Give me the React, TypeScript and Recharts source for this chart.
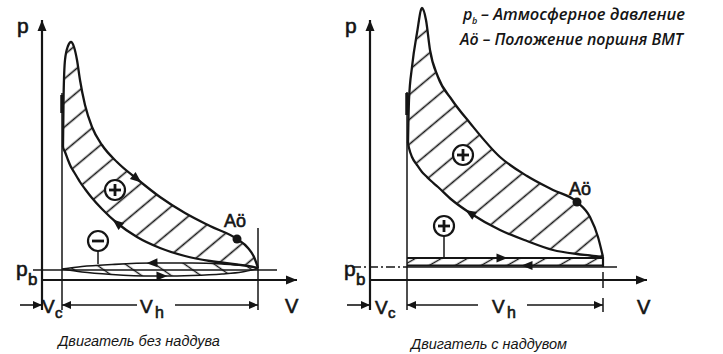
import { ComposedChart, XAxis, YAxis, Line, Area, ReferenceLine, ReferenceDot } from "recharts";

const INK = "#151515";
const FONT = "'Liberation Sans', Arial, sans-serif";

// ---------- left diagram: engine without boost ----------
const naV = [1.05, 1.08, 1.15, 1.3, 1.45, 1.6, 1.75, 1.9, 2.15, 2.5, 3.0, 3.75, 4.75, 5.9, 7.15, 8.4, 9.75, 10.3, 10.6, 10.8];
const naTop = [13.3, 18.5, 22.0, 23.4, 23.8, 23.3, 22.0, 20.0, 17.5, 15.3, 13.5, 11.8, 10.1, 8.3, 6.7, 5.4, 4.1, 3.2, 2.3, 1.2];
const naBot = [13.3, 13.1, 12.8, 12.0, 11.3, 10.8, 10.3, 9.8, 9.1, 8.2, 7.1, 5.7, 4.3, 3.2, 2.4, 1.9, 1.55, 1.4, 1.3, 1.2];

const naLensV = [1.0, 2.0, 3.5, 5.5, 6.0, 7.5, 9.0, 10.0, 10.8];
const naLensExh = [1.1, 1.35, 1.55, 1.7, 1.7, 1.7, 1.6, 1.45, 1.2];
const naLensInt = [1.1, 0.8, 0.55, 0.4, 0.4, 0.45, 0.6, 0.8, 1.15];

const naVc = 1.0;
const naVend = 10.8;
const naPb = 1.0;
const naAo = { V: 9.75, p: 4.1 };
const naPlus = { V: 3.65, p: 9.0 };
const naMinus = { V: 2.8, p: 3.9 };

// ---------- right diagram: engine with boost ----------
const tcV = [1.9, 1.95, 2.1, 2.35, 2.6, 2.8, 3.0, 3.4, 4.1, 5.0, 6.5, 7.85, 9.15, 10.35, 11.0, 11.4, 11.65];
const tcTop = [13.7, 18.0, 21.3, 24.7, 27.2, 26.0, 23.0, 20.3, 18.0, 15.7, 12.3, 10.4, 9.0, 7.8, 6.3, 4.3, 2.3];
const tcBot = [13.7, 13.2, 12.3, 11.5, 10.8, 10.4, 10.0, 9.3, 8.0, 6.7, 5.0, 3.9, 3.0, 2.6, 2.45, 2.35, 2.3];

const tcStripV = [1.85, 6.6, 7.85, 11.65];
const tcStripInt = [2.2, 2.2, 2.2, 2.2];
const tcStripExh = [1.45, 1.45, 1.45, 1.45];

const tcVc = 1.85;
const tcVend = 11.65;
const tcPb = 1.3;
const tcAo = { V: 10.35, p: 7.8 };
const tcPlusBig = { V: 4.65, p: 12.5 };
const tcPlusSmall = { V: 3.7, p: 5.4 };

// rows for a band between two curves; arrows mark the flow direction (+1 forward, -1 back)
const band = (v: number[], top: number[], bot: number[], topArrow: [number, number], botArrow: [number, number]) =>
  v.map((V, i) => ({
    V,
    top: top[i],
    bot: bot[i],
    range: [bot[i], top[i]],
    aTop: V === topArrow[0] ? topArrow[1] : 0,
    aBot: V === botArrow[0] ? botArrow[1] : 0,
  }));

const naLoop = band(naV, naTop, naBot, [4.75, 1], [3.75, -1]);
const naLens = band(naLensV, naLensExh, naLensInt, [5.5, -1], [6.0, 1]);
const tcLoop = band(tcV, tcTop, tcBot, [0, 0], [5.0, -1]);
const tcStrip = band(tcStripV, tcStripInt, tcStripExh, [6.6, 1], [7.85, -1]);

const flowArrow = (flag: "aTop" | "aBot") => (props: any) => {
  const { cx, cy, index, points, payload } = props;
  const dir = payload ? payload[flag] : 0;
  if (!dir || !points || cx == null) return <g key={`${flag}-${index}`} />;
  const a = points[Math.max(0, index - 1)];
  const b = points[Math.min(points.length - 1, index + 1)];
  const ang = (Math.atan2(b.y - a.y, b.x - a.x) * 180) / Math.PI + (dir < 0 ? 180 : 0);
  return (
    <path
      key={`${flag}-${index}`}
      d="M5.5,0 L-5.5,-4.5 L-5.5,4.5 Z"
      fill={INK}
      transform={`translate(${cx},${cy}) rotate(${ang})`}
    />
  );
};

const head = (x: number, y: number, a: number, len: number, wid: number) => {
  const bx = x - len * Math.cos(a);
  const by = y - len * Math.sin(a);
  const nx = -Math.sin(a) * (wid / 2);
  const ny = Math.cos(a) * (wid / 2);
  return `M${x},${y} L${bx + nx},${by + ny} L${bx - nx},${by - ny} Z`;
};

const arrowLine = (width: number, end = false, dash?: string, len = 10, wid = 8) => (props: any) => {
  const { x1, y1, x2, y2 } = props;
  const a = Math.atan2(y2 - y1, x2 - x1);
  return (
    <g>
      <line x1={x1} y1={y1} x2={x2} y2={y2} stroke={INK} strokeWidth={width} strokeDasharray={dash} />
      {end && <path d={head(x2, y2, a, len, wid)} fill={INK} />}
    </g>
  );
};

const signDot = (plus: boolean) => (props: any) => {
  const { cx, cy } = props;
  return (
    <g>
      <circle cx={cx} cy={cy} r={10} fill="#fff" stroke={INK} strokeWidth={2.2} />
      <line x1={cx - 6} y1={cy} x2={cx + 6} y2={cy} stroke={INK} strokeWidth={2.8} />
      {plus && <line x1={cx} y1={cy - 6} x2={cx} y2={cy + 6} stroke={INK} strokeWidth={2.8} />}
    </g>
  );
};

const seg = (x1: number, y1: number, x2: number, y2: number) => [
  { x: x1, y: y1 },
  { x: x2, y: y2 },
];

const hatch = (id: string, angle: number, gap: number, w: number) => (
  <pattern id={id} patternUnits="userSpaceOnUse" width={gap} height={gap} patternTransform={`rotate(${angle})`}>
    <line x1={gap / 2} y1={0} x2={gap / 2} y2={gap} stroke={INK} strokeWidth={w} />
  </pattern>
);

const Chart = ({ left, width, vMin, vMax, children }: any) => (
  <div style={{ position: "absolute", left, top: 0 }}>
    <ComposedChart width={width} height={354} margin={{ top: 0, right: width - (vMax - vMin) * 20, bottom: 34, left: 0 }}>
      <XAxis type="number" dataKey="V" domain={[vMin, vMax]} hide />
      <YAxis type="number" domain={[-4, 28]} hide />
      {children}
    </ComposedChart>
  </div>
);

const loopSeries = (rows: any[], fill: string, w: number, key: string) => [
  <Area key={`${key}-a`} data={rows} dataKey="range" type="monotone" stroke="none" fill={fill} fillOpacity={1} isAnimationActive={false} dot={false} activeDot={false} />,
  <Line key={`${key}-t`} data={rows} dataKey="top" type="monotone" stroke={INK} strokeWidth={w} dot={flowArrow("aTop")} activeDot={false} isAnimationActive={false} />,
  <Line key={`${key}-b`} data={rows} dataKey="bot" type="monotone" stroke={INK} strokeWidth={w} dot={flowArrow("aBot")} activeDot={false} isAnimationActive={false} />,
];

const T = (p: any) => <text fontFamily={FONT} fill={INK} {...p} />;
const L = (p: any) => <T stroke={INK} strokeWidth={0.6} {...p} />;

export default function App() {
  return (
    <div style={{ position: "fixed", left: 0, top: 0, width: 723, height: 354, background: "#fff", overflow: "hidden" }}>
      <Chart left={0} width={340} vMin={-2.1} vMax={13}>
        <defs>
          {hatch("hatchNA", 50, 18.5, 1.6)}
          {hatch("lensNA", -55, 17, 1.4)}
        </defs>
        <ReferenceLine segment={seg(0, -3, 0, 26)} ifOverflow="visible" shape={arrowLine(2.2, true, undefined, 11, 9)} />
        <ReferenceLine segment={seg(0, 0, 12.75, 0)} ifOverflow="visible" shape={arrowLine(2.2, true, undefined, 11, 9)} />
        <ReferenceLine segment={seg(-0.45, naPb, 11.75, naPb)} ifOverflow="visible" shape={arrowLine(1.4)} />
        <ReferenceLine segment={seg(naVc, -3, naVc, 18.7)} ifOverflow="visible" shape={arrowLine(1.5)} />
        <ReferenceLine segment={seg(naVc, 16.7, naVc, 18.5)} ifOverflow="visible" shape={arrowLine(3.5)} />
        <ReferenceLine segment={seg(naVend, -3, naVend, 5.2)} ifOverflow="visible" shape={arrowLine(1.5)} />
        <ReferenceLine segment={seg(-1.1, -2.5, 0, -2.5)} ifOverflow="visible" shape={arrowLine(1.6, true, undefined, 9, 8)} />
        <ReferenceLine segment={seg(4.75, -2.5, naVc, -2.5)} ifOverflow="visible" shape={arrowLine(1.6, true, undefined, 9, 8)} />
        <ReferenceLine segment={seg(6.65, -2.5, naVend, -2.5)} ifOverflow="visible" shape={arrowLine(1.6, true, undefined, 9, 8)} />
        <ReferenceLine segment={seg(naMinus.V, naMinus.p - 1, naMinus.V, 1.6)} ifOverflow="visible" shape={arrowLine(1.5)} />
        {loopSeries(naLens, "url(#lensNA)", 1.6, "lens")}
        {loopSeries(naLoop, "url(#hatchNA)", 2.3, "loop")}
        <ReferenceDot x={naAo.V} y={naAo.p} r={4.5} fill={INK} stroke="none" ifOverflow="visible" />
        <ReferenceDot x={naPlus.V} y={naPlus.p} r={10} ifOverflow="visible" shape={signDot(true)} />
        <ReferenceDot x={naMinus.V} y={naMinus.p} r={10} ifOverflow="visible" shape={signDot(false)} />
      </Chart>

      <Chart left={330} width={393} vMin={-2} vMax={14.5}>
        <defs>
          {hatch("hatchTC", 50, 19, 1.6)}
          {hatch("stripTC", 60, 13, 1.4)}
        </defs>
        <ReferenceLine segment={seg(0, -3, 0, 26)} ifOverflow="visible" shape={arrowLine(2.2, true, undefined, 11, 9)} />
        <ReferenceLine segment={seg(0, 0, 13.85, 0)} ifOverflow="visible" shape={arrowLine(2.2, true, undefined, 11, 9)} />
        <ReferenceLine segment={seg(-0.9, tcPb, tcVc, tcPb)} ifOverflow="visible" shape={arrowLine(1.4, false, "9 3 2 3")} />
        <ReferenceLine segment={seg(tcVc, tcPb, 12.35, tcPb)} ifOverflow="visible" shape={arrowLine(1.6)} />
        <ReferenceLine segment={seg(tcVc, -3, tcVc, 18.8)} ifOverflow="visible" shape={arrowLine(1.5)} />
        <ReferenceLine segment={seg(tcVc, 16.5, tcVc, 18.7)} ifOverflow="visible" shape={arrowLine(3.5)} />
        <ReferenceLine segment={seg(tcVend, 0.8, tcVend, -0.8)} ifOverflow="visible" shape={arrowLine(1.5)} />
        <ReferenceLine segment={seg(tcVend, -1.8, tcVend, -3.2)} ifOverflow="visible" shape={arrowLine(1.5)} />
        <ReferenceLine segment={seg(tcVend, 2.3, tcVend, tcPb)} ifOverflow="visible" shape={arrowLine(2.2)} />
        <ReferenceLine segment={seg(-1.15, -2.5, 0, -2.5)} ifOverflow="visible" shape={arrowLine(1.6, true, undefined, 9, 8)} />
        <ReferenceLine segment={seg(5.4, -2.5, tcVc, -2.5)} ifOverflow="visible" shape={arrowLine(1.6, true, undefined, 9, 8)} />
        <ReferenceLine segment={seg(7.85, -2.5, tcVend, -2.5)} ifOverflow="visible" shape={arrowLine(1.6, true, undefined, 9, 8)} />
        <ReferenceLine segment={seg(tcPlusSmall.V, tcPlusSmall.p - 1, tcPlusSmall.V, 2.2)} ifOverflow="visible" shape={arrowLine(1.5)} />
        {loopSeries(tcStrip, "url(#stripTC)", 2.2, "strip")}
        {loopSeries(tcLoop, "url(#hatchTC)", 2.3, "loop")}
        <ReferenceDot x={tcAo.V} y={tcAo.p} r={4.5} fill={INK} stroke="none" ifOverflow="visible" />
        <ReferenceDot x={tcPlusBig.V} y={tcPlusBig.p} r={10} ifOverflow="visible" shape={signDot(true)} />
        <ReferenceDot x={tcPlusSmall.V} y={tcPlusSmall.p} r={10} ifOverflow="visible" shape={signDot(true)} />
      </Chart>

      <svg width={723} height={354} style={{ position: "absolute", left: 0, top: 0, pointerEvents: "none" }}>
        {/* left labels */}
        <L x={17} y={33} fontSize={21}>p</L>
        <L x={16} y={276} fontSize={21}>p</L>
        <L x={28} y={285} fontSize={17}>b</L>
        <L x={285} y={313} fontSize={20}>V</L>
        <L x={42} y={313} fontSize={19}>V</L>
        <L x={55} y={318} fontSize={15}>c</L>
        <L x={140} y={313} fontSize={19}>V</L>
        <L x={155} y={318} fontSize={16}>h</L>
        <L x={224} y={227} fontSize={18}>Aö</L>
        <T x={139} y={346} fontSize={14.5} fontStyle="italic" textAnchor="middle">Двигатель без наддува</T>

        {/* right labels */}
        <L x={345} y={33} fontSize={21}>p</L>
        <L x={344} y={276} fontSize={21}>p</L>
        <L x={356} y={285} fontSize={17}>b</L>
        <L x={637} y={314} fontSize={20}>V</L>
        <L x={375} y={314} fontSize={19}>V</L>
        <L x={388} y={318} fontSize={15}>c</L>
        <L x={492} y={313} fontSize={19}>V</L>
        <L x={507} y={318} fontSize={16}>h</L>
        <L x={569} y={195} fontSize={18}>Aö</L>
        <T x={489} y={349} fontSize={14.5} fontStyle="italic" textAnchor="middle">Двигатель с наддувом</T>

        <T x={463} y={20} fontSize={16} fontStyle="italic" fontWeight={600} fontFamily="'Open Sans', sans-serif">
          p
        </T>
        <T x={472} y={24} fontSize={9} fontStyle="italic" fontWeight={600} fontFamily="'Open Sans', sans-serif">
          b
        </T>
        <T x={481} y={20} fontSize={16} fontStyle="italic" fontWeight={600} fontFamily="'Open Sans', sans-serif" textLength={204} lengthAdjust="spacingAndGlyphs">
          – Атмосферное давление
        </T>
        <T x={460} y={45} fontSize={16} fontStyle="italic" fontWeight={600} fontFamily="'Open Sans', sans-serif" textLength={223} lengthAdjust="spacingAndGlyphs">
          Aö – Положение поршня ВМТ
        </T>
      </svg>
    </div>
  );
}
